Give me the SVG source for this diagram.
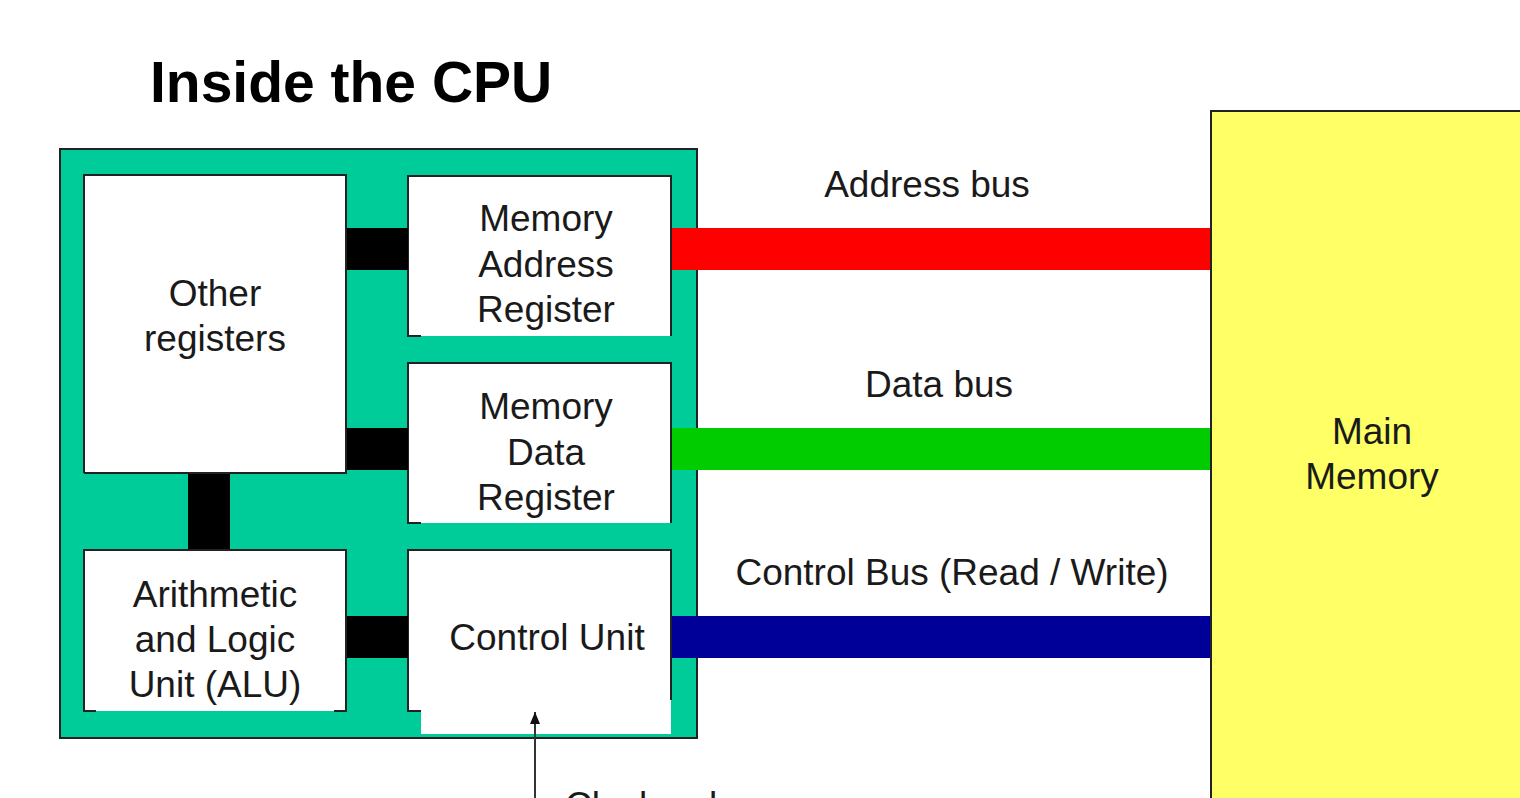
<svg xmlns="http://www.w3.org/2000/svg" width="1520" height="798" viewBox="0 0 1520 798">
<defs>
<style>
text{font-family:"Liberation Sans",Arial,sans-serif;fill:#1a1a1a;font-size:37px;text-anchor:middle}
.title{font-weight:bold;font-size:57px;text-anchor:start;fill:#000}
.box{fill:#fff;stroke:none}
.edge{fill:none;stroke:#222;stroke-width:2}
.link{fill:#000}
</style>
<marker id="ah" markerWidth="12" markerHeight="10" refX="12" refY="5" orient="auto" markerUnits="userSpaceOnUse" viewBox="0 0 12 10">
<path d="M0,0 L12,5 L0,10 Z" fill="#111"/>
</marker>
</defs>
<rect width="1520" height="798" fill="#fff"/>
<text class="title" x="150" y="102">Inside the CPU</text>

<g id="main-memory">
<rect x="1211" y="111" width="320" height="700" fill="#ffff66" stroke="#222" stroke-width="2"/>
<text x="1372" y="444">Main</text>
<text x="1372" y="489">Memory</text>
</g>

<g id="cpu">
<rect x="60" y="149" width="637" height="589" fill="#00cc99" stroke="#222" stroke-width="2"/>
</g>

<g id="other-registers">
<rect class="box" x="84" y="175" width="262" height="298"/>
<path class="edge" d="M84,473 V175 H346 V473 H84"/>
<text x="215" y="306">Other</text>
<text x="215" y="351">registers</text>
</g>

<g id="mar">
<rect class="box" x="408" y="176" width="263" height="160"/>
<path class="edge" d="M421,336 H408 V176 H671 V336"/>
<text x="546" y="231">Memory</text>
<text x="546" y="277">Address</text>
<text x="546" y="322">Register</text>
</g>

<g id="mdr">
<rect class="box" x="408" y="363" width="263" height="160"/>
<path class="edge" d="M421,523 H408 V363 H671 V523"/>
<text x="546" y="419">Memory</text>
<text x="546" y="465">Data</text>
<text x="546" y="510">Register</text>
</g>

<g id="alu">
<rect class="box" x="84" y="550" width="262" height="161"/>
<path class="edge" d="M96,711 H84 V550 H346 V711 H334"/>
<text x="215" y="607">Arithmetic</text>
<text x="215" y="652">and Logic</text>
<text x="215" y="697">Unit (ALU)</text>
</g>

<g id="control-unit">
<rect class="box" x="408" y="550" width="263" height="161"/>
<rect class="box" x="421" y="710" width="250" height="24"/>
<path class="edge" d="M421,711 H408 V550 H671 V700"/>
<text x="547" y="650">Control Unit</text>
</g>

<g id="connectors">
<rect class="link" x="347" y="228" width="61" height="42"/>
<rect class="link" x="347" y="428" width="61" height="42"/>
<rect class="link" x="188" y="474" width="42" height="75"/>
<rect class="link" x="347" y="616" width="61" height="42"/>
<rect x="672" y="228" width="538" height="42" fill="#ff0000"/>
<rect x="672" y="428" width="538" height="42" fill="#00cc00"/>
<rect x="672" y="616" width="538" height="42" fill="#000099"/>
<line x1="535" y1="798" x2="535" y2="712" stroke="#333" stroke-width="2" marker-end="url(#ah)"/>
</g>

<g id="labels">
<text x="927" y="197">Address bus</text>
<text x="939" y="397">Data bus</text>
<text x="952" y="585">Control Bus (Read / Write)</text>
<text x="565" y="818" style="text-anchor:start">Clock pulse</text>
</g>
</svg>
